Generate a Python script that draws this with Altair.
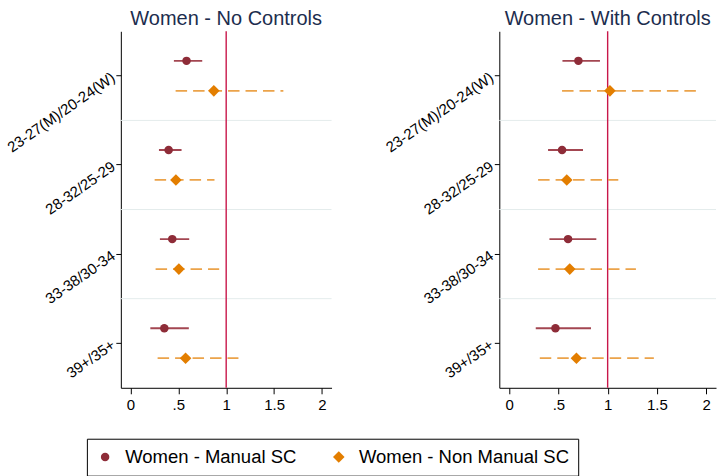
import altair as alt
import pandas as pd

groups = ["23-27(M)/20-24(W)", "28-32/25-29", "33-38/30-34", "39+/35+"]
series = ["Women - Manual SC", "Women - Non Manual SC"]
panel_titles = ["Women - No Controls", "Women - With Controls"]

# Panel 1: no controls
nc_manual_est = [0.586, 0.399, 0.437, 0.354]
nc_manual_lo = [0.454, 0.298, 0.308, 0.208]
nc_manual_hi = [0.750, 0.534, 0.614, 0.610]
nc_nonman_est = [0.871, 0.475, 0.506, 0.576]
nc_nonman_lo = [0.472, 0.253, 0.263, 0.284]
nc_nonman_hi = [1.597, 0.878, 0.927, 1.128]

# Panel 2: with controls
wc_manual_est = [0.703, 0.537, 0.598, 0.470]
wc_manual_lo = [0.541, 0.395, 0.409, 0.270]
wc_manual_hi = [0.922, 0.750, 0.885, 0.831]
wc_nonman_est = [1.023, 0.585, 0.615, 0.683]
wc_nonman_lo = [0.537, 0.294, 0.294, 0.311]
wc_nonman_hi = [1.955, 1.108, 1.287, 1.469]

ref_value = 1.0
x_tick_values = [0, 0.5, 1, 1.5, 2]
x_tick_labels = ["0", ".5", "1", "1.5", "2"]

FONT = "Liberation Sans"
point_colors = ["#8e2c38", "#e37e00"]
ci_colors = ["#a34651", "#eba34a"]
title_color = "#1c2d4e"

color_scale = alt.Scale(domain=series, range=point_colors)
shape_scale = alt.Scale(domain=series, range=["circle", "diamond"])
size_scale = alt.Scale(domain=series, range=[72, 135])

legend = alt.Legend(
    title=None,
    orient="none",
    legendX=-34,
    legendY=408,
    direction="horizontal",
    strokeColor="black",
    fillColor="white",
    padding=9,
    cornerRadius=0,
    labelFontSize=18.5,
    labelFont=FONT,
    labelColor="black",
    labelOffset=10.9,
    labelLimit=300,
    columnPadding=33,
    symbolStrokeWidth=0,
    symbolOpacity=1,
)


def make_df(m_est, m_lo, m_hi, n_est, n_lo, n_hi):
    rows = []
    for i, g in enumerate(groups):
        rows.append({"group": g, "series": series[0], "est": m_est[i], "lo": m_lo[i], "hi": m_hi[i]})
        rows.append({"group": g, "series": series[1], "est": n_est[i], "lo": n_lo[i], "hi": n_hi[i]})
    return pd.DataFrame(rows)


label_expr = " : ".join(
    [f"datum.value == {v} ? '{l}'" for v, l in zip(x_tick_values, x_tick_labels)]
) + " : datum.label"


def panel(df, title, width):
    y_scale = alt.Scale(domain=groups, paddingInner=0, paddingOuter=0)
    y_axis = alt.Axis(
        title=None, labelAngle=325, labelAlign="right", labelBaseline="middle",
        labelFontSize=15, labelFont=FONT, labelColor="black", domainColor="black",
        tickColor="black", tickSize=5, grid=False, labelPadding=3, labelLimit=300,
    )
    x_scale = alt.Scale(domain=[-0.1, 2.1], nice=False, zero=False)
    x_axis = alt.Axis(
        title=None, values=x_tick_values, labelExpr=label_expr, grid=False,
        labelFontSize=15, labelFont=FONT, labelColor="black", domainColor="black",
        tickColor="black", tickSize=6, labelPadding=4,
    )
    yoff = alt.YOffset("series:N", sort=series,
                       scale=alt.Scale(domain=series, paddingInner=0, paddingOuter=0.487))

    seps = alt.Chart(pd.DataFrame({"group": groups[1:]})).mark_rule(
        color="#e4ecec", strokeWidth=1
    ).encode(y=alt.Y("group:N", bandPosition=0, scale=y_scale, axis=y_axis, sort=groups))

    ref = alt.Chart(pd.DataFrame({"ref": [ref_value]})).mark_rule(
        color="#c8174a", strokeWidth=1.4
    ).encode(x=alt.X("ref:Q", scale=x_scale, axis=x_axis))

    base = alt.Chart(df)
    is_manual = alt.datum.series == series[0]
    ci = base.mark_rule(strokeWidth=1.8).encode(
        x=alt.X("lo:Q", scale=x_scale, axis=x_axis),
        x2="hi:Q",
        y=alt.Y("group:N", sort=groups, scale=y_scale, axis=y_axis),
        yOffset=yoff,
        color=alt.condition(is_manual, alt.value(ci_colors[0]), alt.value(ci_colors[1])),
        strokeDash=alt.condition(is_manual, alt.value([1, 0]), alt.value([11.5, 6])),
    )
    pts = base.mark_point(filled=True, opacity=1).encode(
        x=alt.X("est:Q", scale=x_scale, axis=x_axis),
        y=alt.Y("group:N", sort=groups, scale=y_scale, axis=y_axis),
        yOffset=yoff,
        color=alt.Color("series:N", scale=color_scale, legend=legend),
        shape=alt.Shape("series:N", scale=shape_scale, legend=legend),
        size=alt.Size("series:N", scale=size_scale, legend=legend),
    )
    return alt.layer(seps, ref, ci, pts).properties(
        width=width, height=357,
        title=alt.TitleParams(title, fontSize=20, font=FONT, color=title_color,
                              fontWeight="normal", anchor="middle", offset=2),
    )


left = panel(make_df(nc_manual_est, nc_manual_lo, nc_manual_hi, nc_nonman_est, nc_nonman_lo, nc_nonman_hi),
             panel_titles[0], 211)
right = panel(make_df(wc_manual_est, wc_manual_lo, wc_manual_hi, wc_nonman_est, wc_nonman_lo, wc_nonman_hi),
              panel_titles[1], 217)

chart = alt.hconcat(left, right, spacing=50).resolve_scale(
    x="independent", y="independent"
).properties(
    padding={"left": 4, "top": 8, "right": 0, "bottom": 0},
    background="white",
).configure_view(stroke=None)

chart.save("out.html", embed_options={"renderer": "svg", "actions": False})
